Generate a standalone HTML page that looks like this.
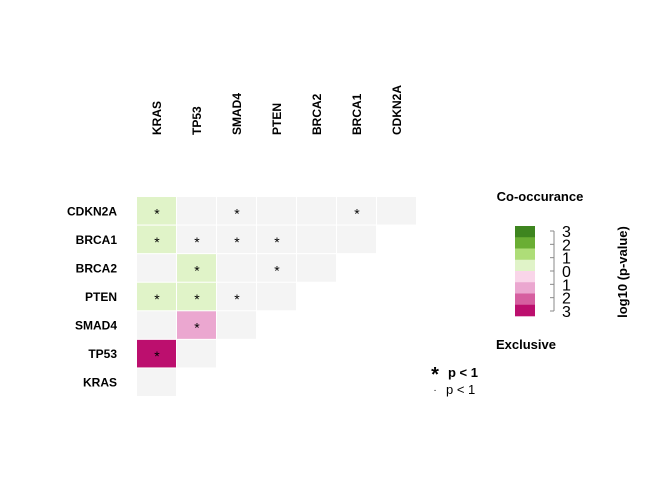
<!DOCTYPE html>
<html><head><meta charset="utf-8"><style>
body{margin:0;background:#fff;font-family:"Liberation Sans",Arial,sans-serif}
</style></head><body>
<svg width="672" height="480" xmlns="http://www.w3.org/2000/svg" font-family="Liberation Sans, Arial, sans-serif">
<g id="cells"></g>
<g id="labels"></g>
<g id="legend">
<text x="540" y="201" font-size="13" font-weight="bold" text-anchor="middle">Co-occurance</text>
<text x="526" y="349" font-size="13" font-weight="bold" text-anchor="middle">Exclusive</text>
<text x="627" y="272" font-size="13" font-weight="bold" text-anchor="middle" transform="rotate(-90 627 272)">log10 (p-value)</text>
<text x="435" y="381" font-size="20" font-weight="bold" text-anchor="middle">*</text>
<text x="448" y="377" font-size="13" font-weight="bold">p &lt; 1</text>
<text x="435" y="393" font-size="10" text-anchor="middle">·</text>
<text x="446" y="394" font-size="13">p &lt; 1</text>
</g>
<script>
const genes=["KRAS","TP53","SMAD4","PTEN","BRCA2","BRCA1","CDKN2A"];
// values[row][col], row index = gene (KRAS=0 bottom); log10 p signed (+ co-occur, - exclusive), null = not significant
const values=[
 [null],
 [-3,null],
 [null,-1.5,null],
 [0.5,0.5,null,null],
 [null,0.5,null,null,null],
 [0.5,null,null,null,null,null],
 [0.5,null,null,null,null,null,null]
];
const stars=[
 [0],
 [1,0],
 [0,1,0],
 [1,1,1,0],
 [0,1,0,1,0],
 [1,1,1,1,0,0],
 [1,0,1,0,0,1,0]
];
const legendTicks=["3","2","1","0","1","2","3"];
const legendColors=["#3e851f","#6aae34","#aedd78","#e0f3c8","#f9d5e9","#eba7d0","#d65fa0","#bc0f6e"];
const NS="http://www.w3.org/2000/svg";
const x0=137,cw=40,yTop=197,rh=200/7;
const xS=c=>x0+c*cw;
const yS=r=>yTop+(6-r)*rh;
function color(v){
 if(v===null)return "#f4f4f4";
 const idx=v>=0?3-Math.min(3,Math.floor(v)):4+Math.min(3,Math.floor(-v));
 return legendColors[idx];
}
const cells=document.getElementById("cells");
values.forEach((row,r)=>row.forEach((v,c)=>{
 const rect=document.createElementNS(NS,"rect");
 rect.setAttribute("x",xS(c));rect.setAttribute("y",yS(r));
 rect.setAttribute("width",cw-1);rect.setAttribute("height",rh-1);
 rect.setAttribute("fill",color(v));
 
 
 cells.appendChild(rect);
 if(stars[r][c]){
  const t=document.createElementNS(NS,"text");
  t.setAttribute("x",xS(c)+cw/2);t.setAttribute("y",yS(r)+rh/2+7);
  t.setAttribute("text-anchor","middle");t.setAttribute("font-size","14");
  t.textContent="*";
  
  
  cells.appendChild(t);
 }
}));
const labels=document.getElementById("labels");
genes.forEach((g,i)=>{
 const t=document.createElementNS(NS,"text");
 t.setAttribute("x",117);t.setAttribute("y",yS(i)+rh/2+4);
 t.setAttribute("text-anchor","end");t.setAttribute("font-size","12");t.setAttribute("font-weight","bold");
 t.textContent=g;
 
 
 labels.appendChild(t);
 const cx=xS(i)+cw/2+4;
 const u=document.createElementNS(NS,"text");
 u.setAttribute("x",cx);u.setAttribute("y",135);
 u.setAttribute("font-size","12");u.setAttribute("font-weight","bold");
 u.setAttribute("transform","rotate(-90 "+cx+" 135)");
 u.textContent=g;
 
 
 labels.appendChild(u);
});
const lg=document.getElementById("legend");
const ly0=226,lh=90/8;
legendColors.forEach((c,i)=>{
 const r=document.createElementNS(NS,"rect");
 r.setAttribute("x",515);r.setAttribute("y",ly0+i*lh);r.setAttribute("width",20);r.setAttribute("height",lh+0.3);
 r.setAttribute("fill",c);
 
 
 lg.appendChild(r);
});
const axis=document.createElementNS(NS,"line");
axis.setAttribute("x1",554);axis.setAttribute("x2",554);axis.setAttribute("y1",231);axis.setAttribute("y2",311);
axis.setAttribute("stroke","#888");


lg.appendChild(axis);
legendTicks.forEach((s,i)=>{
 const y=231+i*80/6;
 const tk=document.createElementNS(NS,"line");
 tk.setAttribute("x1",550);tk.setAttribute("x2",554);tk.setAttribute("y1",y);tk.setAttribute("y2",y);tk.setAttribute("stroke","#888");
 
 
 lg.appendChild(tk);
 const t=document.createElementNS(NS,"text");
 t.setAttribute("x",562);t.setAttribute("y",y+6);t.setAttribute("font-size","16");
 t.textContent=s;
 
 
 lg.appendChild(t);
});
</script>
</svg>
</body></html>
